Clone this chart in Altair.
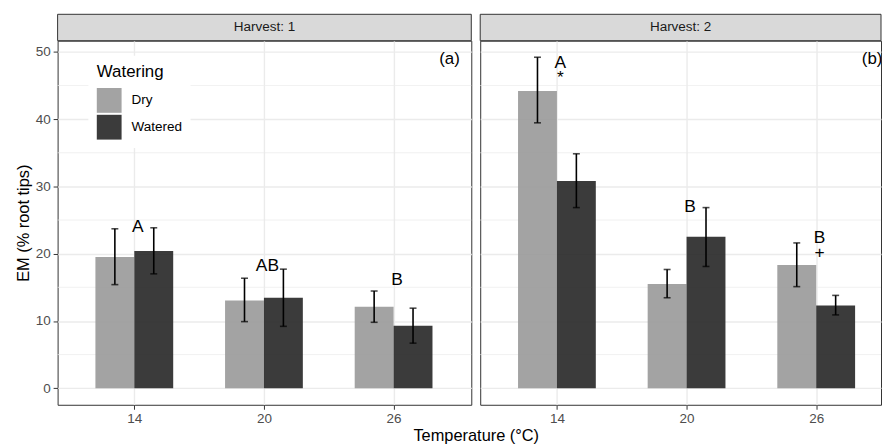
import altair as alt
import pandas as pd

# ---------------- data ----------------
harvest = [1, 1, 1, 1, 1, 1, 2, 2, 2, 2, 2, 2]
temperature = [14, 14, 20, 20, 26, 26, 14, 14, 20, 20, 26, 26]
watering = ["Dry", "Watered"] * 6
em_mean = [19.5, 20.4, 13.05, 13.45, 12.1, 9.3, 44.2, 30.8, 15.5, 22.5, 18.3, 12.3]
em_low = [15.4, 17.0, 9.9, 9.2, 9.8, 6.7, 39.45, 26.85, 13.45, 18.1, 15.1, 10.9]
em_high = [23.7, 23.85, 16.35, 17.7, 14.45, 11.9, 49.2, 34.85, 17.65, 26.85, 21.6, 13.8]

# significance letters (top of the label block, in data units)
letter_harvest = [1, 1, 1, 2, 2, 2]
letter_temp = [14, 20, 26, 14, 20, 26]
letter_text = ["A", "AB", "B", "A\n*", "B", "B\n+"]
letter_y = [25.26, 19.56, 17.46, 49.66, 28.26, 23.66]

panel_tags = ["(a)", "(b)"]
x_ticks = [14, 20, 26]
y_ticks = [0, 10, 20, 30, 40, 50]
y_minor = [5, 15, 25, 35, 45]

BAR_W = 1.8
df = pd.DataFrame({
    "harvest": harvest, "temp": temperature, "watering": watering,
    "mean": em_mean, "lo": em_low, "hi": em_high,
})
df["xs"] = [t - BAR_W if w == "Dry" else t for t, w in zip(df.temp, df.watering)]
df["xe"] = [t if w == "Dry" else t + BAR_W for t, w in zip(df.temp, df.watering)]
df["xc"] = [t - BAR_W / 2 if w == "Dry" else t + BAR_W / 2 for t, w in zip(df.temp, df.watering)]

letters = pd.DataFrame({"harvest": letter_harvest, "temp": letter_temp,
                        "label": letter_text, "y": letter_y})
letters["x"] = letters.temp + 0.16

PX_PER_UNIT = 21.78
X0 = 10.45
H = 367
FONT = "Liberation Sans"


def panel(h, width, first):
    d = df[df.harvest == h]
    xs = alt.Scale(domain=[X0, X0 + width / PX_PER_UNIT], nice=False, zero=False)
    ys = alt.Scale(domain=[-2.46, 51.66], nice=False, zero=False)

    xaxis = alt.Axis(values=x_ticks, title=None, grid=True, gridColor="#EBEBEB",
                     gridWidth=1.4, domain=False, tickColor="#333333", tickSize=4.5,
                     labelFontSize=13.6, labelColor="#4D4D4D", labelPadding=2, labelFont=FONT)
    if first:
        yaxis = alt.Axis(values=y_ticks, title="EM (% root tips)", grid=True,
                         gridColor="#EBEBEB", gridWidth=1.4, domain=False,
                         tickColor="#333333", tickSize=4.5, labelFontSize=13.6,
                         labelColor="#4D4D4D", labelPadding=3, labelFont=FONT,
                         titleFontSize=16.5, titleFontWeight="normal", titleColor="#000000",
                         titleFont=FONT, titlePadding=4)
    else:
        yaxis = alt.Axis(values=y_ticks, title=None, grid=True, gridColor="#EBEBEB",
                         gridWidth=1.4, domain=False, ticks=False, labels=False)

    minor = alt.Chart(pd.DataFrame({"v": y_minor})).mark_rule(
        color="#EBEBEB", strokeWidth=0.7
    ).encode(y=alt.Y("v:Q", scale=ys, axis=yaxis))

    if first:
        legend = alt.Legend(
            title="Watering", orient="none", legendX=31, legendY=15.2,
            fillColor="white", padding=8.5, titleFontSize=17, titleFontWeight="normal",
            titleColor="#000000", titleFont=FONT, titlePadding=7,
            labelFontSize=13.6, labelFont=FONT, labelColor="#000000", labelOffset=10,
            symbolType="square", symbolSize=625, symbolStrokeWidth=0,
            symbolOpacity=0.9, rowPadding=2,
        )
    else:
        legend = None

    bars = alt.Chart(d).mark_bar(opacity=0.9).encode(
        x=alt.X("xs:Q", scale=xs, axis=xaxis),
        x2="xe:Q",
        y=alt.Y("mean:Q", scale=ys),
        y2=alt.datum(0),
        color=alt.Color("watering:N",
                        scale=alt.Scale(domain=["Dry", "Watered"], range=["#999999", "#262626"]),
                        legend=legend),
    )
    err = alt.Chart(d).mark_rule(color="black", strokeWidth=1.6).encode(
        x=alt.X("xc:Q", scale=xs), y=alt.Y("lo:Q", scale=ys), y2="hi:Q")
    cap_lo = alt.Chart(d).mark_tick(color="black", orient="horizontal", size=7,
                                    thickness=1.6).encode(
        x=alt.X("xc:Q", scale=xs), y=alt.Y("lo:Q", scale=ys))
    cap_hi = alt.Chart(d).mark_tick(color="black", orient="horizontal", size=7,
                                    thickness=1.6).encode(
        x=alt.X("xc:Q", scale=xs), y=alt.Y("hi:Q", scale=ys))

    let = alt.Chart(letters[letters.harvest == h]).mark_text(
        fontSize=17.5, font=FONT, color="black", baseline="top",
        lineBreak="\n", lineHeight=15).encode(
        x=alt.X("x:Q", scale=xs), y=alt.Y("y:Q", scale=ys), text="label:N")
    layers = [minor, bars, err, cap_lo, cap_hi, let]

    tag = alt.Chart(pd.DataFrame({"t": [panel_tags[h - 1]]})).mark_text(
        fontSize=17, font=FONT, color="black", baseline="alphabetic", align="center",
        clip=True).encode(x=alt.value(395), y=alt.value(23.2), text="t:N")
    layers.append(tag)

    strip_df = pd.DataFrame({"s": [f"Harvest: {h}"]})
    strip_rect = alt.Chart(strip_df).mark_rect(
        fill="#D9D9D9", stroke="#333333", strokeWidth=1).encode(
        x=alt.value(0), x2=alt.value(width), y=alt.value(-26.6), y2=alt.value(0))
    strip_text = alt.Chart(strip_df).mark_text(
        fontSize=13.6, font=FONT, color="#1A1A1A", baseline="middle").encode(
        x=alt.value(width / 2), y=alt.value(-13.3), text="s:N")
    layers += [strip_rect, strip_text]

    if first:
        xt = alt.Chart(pd.DataFrame({"t": ["Temperature (°C)"]})).mark_text(
            fontSize=16.5, font=FONT, color="black", baseline="alphabetic").encode(
            x=alt.value(422), y=alt.value(403.5), text="t:N")
        layers.append(xt)

    return alt.layer(*layers).properties(width=width, height=H)


p1 = panel(1, 417, True)
p2 = panel(2, 404, False)

chart = alt.hconcat(p1, p2, spacing=9, bounds="flush").resolve_scale(
    color="independent"
).properties(
    padding={"left": 6, "top": 3.2, "right": 0, "bottom": 0}
).configure(
    font=FONT, background="white",
    view=alt.ViewConfig(stroke="#333333", strokeWidth=1),
)

chart.save("out.html", embed_options={"renderer": "svg", "actions": False})
